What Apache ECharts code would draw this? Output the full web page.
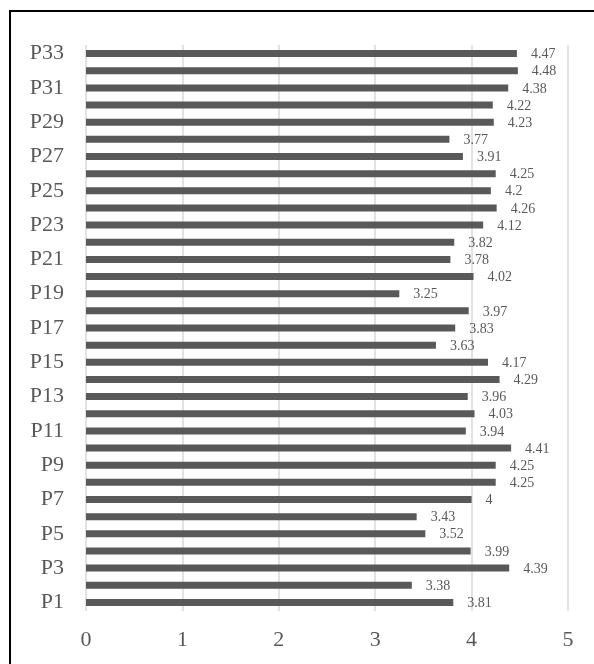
<!DOCTYPE html>
<html>
<head>
<meta charset="utf-8">
<script src="https://cdn.jsdelivr.net/npm/echarts@6/dist/echarts.min.js"></script>
<style>
html,body{margin:0;padding:0;background:#fff;}
#c{width:594px;height:664px;}
</style>
</head>
<body>
<div id="c"></div>
<script>
const categories = ["P1","P2","P3","P4","P5","P6","P7","P8","P9","P10","P11","P12","P13","P14","P15","P16","P17","P18","P19","P20","P21","P22","P23","P24","P25","P26","P27","P28","P29","P30","P31","P32","P33"];
const values = [3.81,3.38,4.39,3.99,3.52,3.43,4,4.25,4.25,4.41,3.94,4.03,3.96,4.29,4.17,3.63,3.83,3.97,3.25,4.02,3.78,3.82,4.12,4.26,4.2,4.25,3.91,3.77,4.23,4.22,4.38,4.48,4.47];
const xTicks = [0,1,2,3,4,5];

const chart = echarts.init(document.getElementById('c'));
chart.setOption({
  backgroundColor: '#fff',
  animation: false,
  graphic: [{
    type: 'rect',
    shape: {x: 10, y: 11, width: 700, height: 700},
    style: {fill: 'none', stroke: '#000', lineWidth: 2}
  }],
  grid: {left: 86, right: 26, top: 45, height: 566, containLabel: false},
  xAxis: {
    type: 'value', min: xTicks[0], max: xTicks[xTicks.length-1], interval: 1,
    axisLine: {show: false}, axisTick: {show: false},
    axisLabel: {fontFamily: 'Liberation Serif', fontSize: 22, color: '#595959', margin: 18},
    splitLine: {show: true, lineStyle: {color: '#d9d9d9', width: 1.5}}
  },
  yAxis: {
    type: 'category', data: categories,
    axisLine: {show: false}, axisTick: {show: false},
    axisLabel: {interval: 1, fontFamily: 'Liberation Serif', fontSize: 22, color: '#595959', margin: 22}
  },
  series: [{
    type: 'bar', data: values, barWidth: 7,
    itemStyle: {color: '#595959'},
    label: {show: true, position: 'right', distance: 14, fontFamily: 'Liberation Serif', fontSize: 14, color: '#595959', offset: [0, 1]}
  }]
});
</script>
</body>
</html>
